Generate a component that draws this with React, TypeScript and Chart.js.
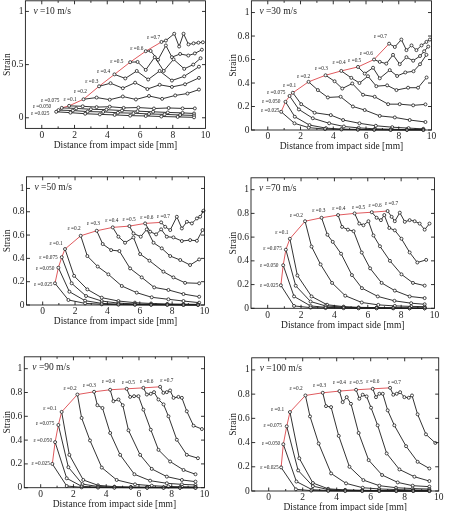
import React, { useEffect, useRef } from 'react';
import { Chart, registerables } from 'chart.js';

Chart.register(...registerables);

const FONT = "'Liberation Serif', 'Times New Roman', serif";

const STRAIN_LEVELS = ['0.025', '0.050', '0.075', '0.1', '0.2', '0.3', '0.4', '0.5', '0.6', '0.7'];
const X_TICKS = [0, 2, 4, 6, 8, 10];
const Y_TICKS_COARSE = [0, 0.5, 1];
const Y_TICKS_FINE = [0, 0.2, 0.4, 0.6, 0.8, 1];
const X_TITLE = 'Distance from impact side [mm]';
const Y_TITLE = 'Strain';

type Pt = [number, number];

// v = 10 m/s
const V10: Pt[][] = [
  [[0.88, 0.056], [1.75, 0.048], [2.65, 0.038], [3.55, 0.032], [4.45, 0.027], [5.4, 0.02], [6.35, 0.017], [7.3, 0.012], [8.3, 0.008], [9.3, 0.004]],
  [[1.02, 0.072], [1.9, 0.068], [2.8, 0.058], [3.75, 0.055], [4.65, 0.047], [5.6, 0.043], [6.55, 0.036], [7.5, 0.032], [8.45, 0.026], [9.3, 0.022]],
  [[1.22, 0.093], [2.1, 0.088], [3.0, 0.08], [3.95, 0.076], [4.9, 0.068], [5.85, 0.062], [6.8, 0.056], [7.7, 0.05], [8.6, 0.046], [9.3, 0.04]],
  [[1.67, 0.112], [2.5, 0.108], [3.35, 0.1], [4.15, 0.104], [5.0, 0.093], [5.9, 0.096], [6.85, 0.087], [7.75, 0.092], [8.6, 0.088], [9.35, 0.088]],
  [[2.55, 0.174], [3.35, 0.19], [4.15, 0.17], [4.95, 0.2], [5.75, 0.172], [6.55, 0.205], [7.35, 0.178], [8.15, 0.21], [8.9, 0.228], [9.6, 0.265]],
  [[3.5, 0.296], [4.2, 0.325], [4.95, 0.278], [5.7, 0.33], [6.45, 0.27], [7.2, 0.31], [7.95, 0.29], [8.75, 0.315], [9.6, 0.375]],
  [[4.44, 0.408], [5.1, 0.37], [5.8, 0.44], [6.5, 0.36], [7.2, 0.44], [7.95, 0.35], [8.7, 0.39], [9.6, 0.48]],
  [[5.4, 0.523], [5.85, 0.525], [6.35, 0.45], [6.9, 0.57], [7.45, 0.44], [8.05, 0.55], [8.7, 0.46], [9.25, 0.5], [9.7, 0.56]],
  [[6.35, 0.626], [6.65, 0.628], [7.1, 0.545], [7.58, 0.68], [7.95, 0.57], [8.45, 0.6], [8.95, 0.585], [9.35, 0.605], [9.78, 0.64]],
  [[7.31, 0.713], [7.58, 0.726], [8.09, 0.79], [8.39, 0.67], [8.66, 0.79], [8.96, 0.69], [9.27, 0.7], [9.57, 0.706], [9.84, 0.71]],
];

// v = 30 m/s
const V30: Pt[][] = [
  [[0.82, 0.155], [1.63, 0.057], [2.5, 0.02], [3.5, 0.008], [4.5, 0.004], [5.5, 0.002], [6.5, 0.001], [7.5, 0.0], [8.5, 0.0], [9.5, 0.0]],
  [[1.08, 0.24], [1.65, 0.113], [2.55, 0.042], [3.55, 0.016], [4.5, 0.008], [5.5, 0.005], [6.5, 0.003], [7.5, 0.002], [8.5, 0.001], [9.5, 0.001]],
  [[1.33, 0.29], [1.9, 0.175], [2.75, 0.1], [3.75, 0.057], [4.65, 0.03], [5.55, 0.018], [6.55, 0.01], [7.55, 0.006], [8.5, 0.004], [9.5, 0.003]],
  [[1.53, 0.317], [2.04, 0.22], [2.86, 0.147], [3.85, 0.127], [4.6, 0.085], [5.6, 0.057], [6.6, 0.036], [7.6, 0.024], [8.6, 0.016], [9.5, 0.01]],
  [[2.49, 0.41], [3.06, 0.34], [3.67, 0.277], [4.45, 0.283], [5.2, 0.2], [5.92, 0.17], [6.84, 0.12], [7.76, 0.107], [8.67, 0.085], [9.63, 0.068]],
  [[3.53, 0.466], [4.08, 0.415], [4.55, 0.353], [5.16, 0.396], [5.82, 0.3], [6.53, 0.283], [7.35, 0.22], [8.06, 0.22], [8.88, 0.21], [9.63, 0.218]],
  [[4.49, 0.503], [5.1, 0.444], [5.6, 0.4], [6.12, 0.458], [6.63, 0.373], [7.29, 0.38], [7.86, 0.34], [8.57, 0.36], [9.18, 0.36], [9.7, 0.447]],
  [[5.51, 0.537], [5.92, 0.48], [6.43, 0.53], [6.84, 0.44], [7.45, 0.51], [7.9, 0.46], [8.4, 0.49], [8.9, 0.5], [9.3, 0.56], [9.69, 0.64]],
  [[6.49, 0.6], [6.84, 0.58], [7.24, 0.565], [7.65, 0.64], [8.06, 0.56], [8.47, 0.62], [8.88, 0.59], [9.3, 0.63], [9.55, 0.67], [9.8, 0.71]],
  [[7.41, 0.735], [7.76, 0.707], [8.16, 0.77], [8.47, 0.68], [8.78, 0.72], [9.08, 0.68], [9.39, 0.72], [9.69, 0.75], [9.9, 0.77]],
];

// v = 50 m/s
const V50: Pt[][] = [
  [[0.76, 0.186], [1.59, 0.043], [2.62, 0.014], [3.65, 0.006], [4.68, 0.003], [5.7, 0.002], [6.7, 0.001], [7.7, 0.001], [8.7, 0.0], [9.6, 0.0]],
  [[0.97, 0.32], [1.65, 0.114], [2.62, 0.037], [3.65, 0.014], [4.68, 0.007], [5.7, 0.004], [6.7, 0.003], [7.7, 0.002], [8.7, 0.001], [9.6, 0.001]],
  [[1.18, 0.41], [1.79, 0.186], [2.68, 0.077], [3.65, 0.034], [4.68, 0.016], [5.7, 0.009], [6.7, 0.006], [7.7, 0.004], [8.7, 0.003], [9.6, 0.002]],
  [[1.38, 0.48], [1.94, 0.25], [2.76, 0.134], [3.65, 0.063], [4.68, 0.034], [5.7, 0.02], [6.7, 0.013], [7.7, 0.009], [8.7, 0.007], [9.6, 0.005]],
  [[2.35, 0.594], [2.76, 0.42], [3.4, 0.33], [4.06, 0.263], [4.89, 0.163], [5.81, 0.106], [6.74, 0.066], [7.77, 0.049], [8.7, 0.034], [9.67, 0.02]],
  [[3.34, 0.637], [3.71, 0.523], [4.23, 0.471], [4.74, 0.463], [5.4, 0.314], [6.12, 0.237], [6.89, 0.151], [7.77, 0.129], [8.7, 0.094], [9.67, 0.071]],
  [[4.33, 0.666], [4.68, 0.586], [5.09, 0.534], [5.61, 0.58], [6.02, 0.437], [6.6, 0.38], [7.46, 0.286], [8.08, 0.237], [8.8, 0.19], [9.67, 0.186]],
  [[5.36, 0.677], [5.61, 0.614], [6.06, 0.586], [6.43, 0.649], [6.85, 0.534], [7.36, 0.486], [7.88, 0.42], [8.5, 0.386], [9.11, 0.343], [9.67, 0.391]],
  [[6.33, 0.7], [6.64, 0.629], [7.01, 0.606], [7.32, 0.649], [7.67, 0.586], [8.08, 0.58], [8.6, 0.549], [9.11, 0.557], [9.53, 0.551], [9.88, 0.643]],
  [[7.32, 0.709], [7.57, 0.671], [7.88, 0.643], [8.29, 0.757], [8.6, 0.657], [8.91, 0.714], [9.22, 0.7], [9.53, 0.743], [9.73, 0.757], [9.94, 0.809]],
];

// v = 70 m/s
const V70: Pt[][] = [
  [[0.79, 0.194], [1.58, 0.02], [2.57, 0.006], [3.47, 0.002], [4.55, 0.001], [5.45, 0.0], [6.53, 0.0], [7.52, 0.0], [8.51, 0.0], [9.41, 0.0]],
  [[0.93, 0.363], [1.58, 0.1], [2.57, 0.02], [3.47, 0.008], [4.55, 0.004], [5.45, 0.002], [6.53, 0.001], [7.52, 0.001], [8.51, 0.0], [9.41, 0.0]],
  [[1.09, 0.494], [1.68, 0.19], [2.57, 0.057], [3.47, 0.02], [4.55, 0.01], [5.45, 0.005], [6.53, 0.003], [7.52, 0.002], [8.51, 0.001], [9.41, 0.001]],
  [[1.33, 0.586], [1.78, 0.277], [2.63, 0.1], [3.56, 0.03], [4.55, 0.014], [5.45, 0.008], [6.53, 0.006], [7.52, 0.004], [8.51, 0.003], [9.41, 0.002]],
  [[2.24, 0.734], [2.63, 0.52], [3.17, 0.37], [3.86, 0.214], [4.65, 0.106], [5.64, 0.049], [6.63, 0.029], [7.62, 0.02], [8.6, 0.016], [9.41, 0.014]],
  [[3.23, 0.763], [3.58, 0.62], [3.9, 0.56], [4.4, 0.46], [5.05, 0.28], [5.65, 0.17], [6.6, 0.1], [7.6, 0.063], [8.6, 0.043], [9.41, 0.034]],
  [[4.22, 0.786], [4.46, 0.686], [4.81, 0.663], [5.15, 0.65], [5.64, 0.47], [6.14, 0.337], [6.83, 0.214], [7.62, 0.149], [8.51, 0.1], [9.41, 0.086]],
  [[5.21, 0.8], [5.49, 0.714], [5.74, 0.7], [6.04, 0.734], [6.34, 0.614], [6.73, 0.523], [7.33, 0.4], [8.02, 0.286], [8.71, 0.214], [9.41, 0.191]],
  [[6.24, 0.81], [6.53, 0.763], [6.79, 0.743], [6.99, 0.786], [7.29, 0.677], [7.62, 0.657], [8.02, 0.586], [8.51, 0.471], [8.97, 0.386], [9.5, 0.408]],
  [[7.19, 0.82], [7.43, 0.771], [7.62, 0.734], [7.92, 0.806], [8.22, 0.729], [8.51, 0.743], [8.81, 0.734], [9.11, 0.714], [9.41, 0.663], [9.7, 0.714]],
];

// v = 90 m/s
const V90: Pt[][] = [
  [[0.71, 0.2], [1.59, 0.014], [2.5, 0.003], [3.5, 0.001], [4.5, 0.0], [5.5, 0.0], [6.5, 0.0], [7.5, 0.0], [8.5, 0.0], [9.45, 0.0]],
  [[0.88, 0.383], [1.59, 0.079], [2.5, 0.012], [3.5, 0.004], [4.5, 0.002], [5.5, 0.001], [6.5, 0.0], [7.5, 0.0], [8.5, 0.0], [9.45, 0.0]],
  [[1.08, 0.527], [1.69, 0.172], [2.55, 0.03], [3.5, 0.01], [4.5, 0.005], [5.5, 0.003], [6.5, 0.002], [7.5, 0.001], [8.5, 0.001], [9.45, 0.0]],
  [[1.28, 0.637], [1.75, 0.276], [2.6, 0.065], [3.5, 0.02], [4.5, 0.009], [5.5, 0.006], [6.5, 0.004], [7.5, 0.003], [8.5, 0.002], [9.45, 0.002]],
  [[2.24, 0.783], [2.5, 0.586], [3.01, 0.397], [3.73, 0.169], [4.64, 0.065], [5.76, 0.028], [6.78, 0.017], [7.8, 0.01], [8.62, 0.008], [9.45, 0.006]],
  [[3.26, 0.806], [3.46, 0.693], [3.77, 0.67], [4.24, 0.46], [4.85, 0.276], [5.72, 0.113], [6.68, 0.059], [7.7, 0.037], [8.62, 0.028], [9.45, 0.023]],
  [[4.24, 0.823], [4.44, 0.727], [4.75, 0.741], [5.01, 0.693], [5.36, 0.482], [6.07, 0.276], [6.78, 0.158], [7.7, 0.093], [8.62, 0.065], [9.45, 0.051]],
  [[5.25, 0.831], [5.46, 0.763], [5.7, 0.769], [5.97, 0.769], [6.27, 0.656], [6.72, 0.487], [7.19, 0.318], [7.9, 0.22], [8.72, 0.149], [9.45, 0.113]],
  [[6.27, 0.839], [6.48, 0.783], [6.72, 0.789], [6.92, 0.803], [7.19, 0.741], [7.5, 0.7], [7.8, 0.6], [8.31, 0.403], [8.92, 0.276], [9.6, 0.248]],
  [[7.29, 0.848], [7.49, 0.797], [7.7, 0.803], [7.9, 0.817], [8.11, 0.755], [8.41, 0.763], [8.62, 0.755], [8.92, 0.642], [9.33, 0.521], [9.84, 0.493]],
];

// v = 100 m/s
const V100: Pt[][] = [
  [[0.73, 0.195], [1.6, 0.014], [2.5, 0.003], [3.5, 0.001], [4.5, 0.0], [5.5, 0.0], [6.5, 0.0], [7.5, 0.0], [8.5, 0.0], [9.45, 0.0]],
  [[0.86, 0.386], [1.63, 0.078], [2.55, 0.011], [3.5, 0.004], [4.5, 0.002], [5.5, 0.001], [6.5, 0.0], [7.5, 0.0], [8.5, 0.0], [9.45, 0.0]],
  [[1.06, 0.534], [1.73, 0.17], [2.6, 0.04], [3.5, 0.012], [4.5, 0.006], [5.5, 0.003], [6.5, 0.002], [7.5, 0.001], [8.5, 0.001], [9.45, 0.0]],
  [[1.25, 0.652], [1.8, 0.27], [2.6, 0.066], [3.5, 0.018], [4.5, 0.009], [5.5, 0.006], [6.5, 0.004], [7.5, 0.003], [8.5, 0.002], [9.45, 0.002]],
  [[2.16, 0.789], [2.43, 0.616], [2.94, 0.392], [3.67, 0.145], [4.55, 0.063], [5.53, 0.027], [6.5, 0.017], [7.5, 0.012], [8.5, 0.008], [9.45, 0.006]],
  [[3.18, 0.811], [3.37, 0.701], [3.67, 0.693], [4.12, 0.455], [4.75, 0.2], [5.57, 0.09], [6.51, 0.044], [7.49, 0.027], [8.47, 0.02], [9.45, 0.016]],
  [[4.16, 0.825], [4.35, 0.734], [4.59, 0.775], [4.84, 0.72], [5.29, 0.479], [5.88, 0.255], [6.67, 0.132], [7.59, 0.071], [8.47, 0.044], [9.45, 0.036]],
  [[5.14, 0.836], [5.33, 0.762], [5.53, 0.795], [5.76, 0.781], [6.02, 0.688], [6.41, 0.542], [6.94, 0.31], [7.69, 0.178], [8.57, 0.118], [9.45, 0.082]],
  [[6.12, 0.844], [6.31, 0.775], [6.51, 0.803], [6.71, 0.803], [7.0, 0.666], [7.39, 0.542], [8.08, 0.37], [8.76, 0.241], [9.45, 0.186]],
  [[7.14, 0.852], [7.33, 0.795], [7.53, 0.803], [7.73, 0.816], [7.98, 0.775], [8.24, 0.77], [8.43, 0.789], [8.76, 0.633], [9.25, 0.468], [9.8, 0.397]],
];

type PanelDef = {
  speed: number;
  series: Pt[][];
  yMin: number;
  yTicks: number[];
  px: number;
  box: [number, number, number, number];
  labelOffsets: [number, number][]; // label centre offset (px) from its peak point
};

const PANELS: PanelDef[] = [
  {
    speed: 10, series: V10, yMin: -0.1, yTicks: Y_TICKS_COARSE, px: 0, box: [25.4, 0, 205.5, 128.4],
    labelOffsets: [[-16, 1.6], [-16.5, -4], [-11.5, -7.7], [1, -6.7], [-3.3, -8], [-7.3, -4.3], [-11, -2.3], [-13.3, -0.7], [-9, -2.4], [-8, -4.6]],
  },
  {
    speed: 30, series: V30, yMin: 0, yTicks: Y_TICKS_FINE, px: 226, box: [251.4, 0.5, 431.5, 130],
    labelOffsets: [[-11, -0.7], [-14.3, 0], [-13.3, -3.3], [-3.3, -6.7], [-5, -5.7], [-4.3, -6.3], [-2.3, -8], [-3.3, -6.7], [-7.7, -6], [-8.7, -7.3]],
  },
  {
    speed: 50, series: V50, yMin: 0, yTicks: Y_TICKS_FINE, px: 0, box: [26.5, 176.6, 204.5, 305],
    labelOffsets: [[-11.7, 1.7], [-13.3, 0.7], [-13.3, 0], [-9, -5], [-6.7, -6.7], [-3.3, -7.3], [-1, -6.7], [-0.3, -6.7], [1.7, -5.7], [2.3, -5.7]],
  },
  {
    speed: 70, series: V70, yMin: 0, yTicks: Y_TICKS_FINE, px: 226, box: [251, 177, 434.5, 308.3],
    labelOffsets: [[-11.7, 0], [-14, 0.7], [-13.3, -0.7], [-8, -6], [-8.7, -5.3], [-2.7, -6.7], [0.7, -6], [4, -5.3], [3.3, -6.7], [4, -7.7]],
  },
  {
    speed: 90, series: V90, yMin: 0, yTicks: Y_TICKS_FINE, px: 0, box: [24.3, 356.4, 204.5, 487.7],
    labelOffsets: [[-11.7, 0], [-12.3, -1.7], [-13.3, -1.3], [-11.7, -3], [-7.3, -6], [-4.7, -6.3], [-1.7, -7.7], [1.7, -6.7], [3.3, -6.7], [6.7, -6.3]],
  },
  {
    speed: 100, series: V100, yMin: 0, yTicks: Y_TICKS_FINE, px: 226, box: [251.7, 357, 438.7, 491],
    labelOffsets: [[-11.7, 0], [-12.3, -0.7], [-14, -1], [-12.3, -2.3], [-9.3, -6.7], [-3.3, -6.7], [0, -8], [0, -7.3], [0, -6.7], [4.3, -5.7]],
  },
];

const INK = '#1c1c1c';
const RED = '#e05a5e';

function Panel({ p }: { p: PanelDef }) {
  const ref = useRef<HTMLCanvasElement | null>(null);
  const [L, T, R, B] = p.box;
  const W = 226;
  const top = Math.floor(T) - 4;
  const H = Math.round(B + 22.2 - top);
  const yw = L - p.px;
  const padR = W - (R - p.px);
  const padT = T - top;
  const xh = top + H - B;

  useEffect(() => {
    if (!ref.current) return;
    const datasets: any[] = p.series.map((s, i) => ({
      label: 'ε =' + STRAIN_LEVELS[i],
      data: s.map(([x, y]) => ({ x, y })),
      borderColor: INK,
      borderWidth: 0.9,
      pointRadius: 1.5,
      pointBackgroundColor: '#ffffff',
      pointBorderColor: INK,
      pointBorderWidth: 0.8,
      tension: 0,
      fill: false,
      clip: 4,
    }));
    datasets.push({
      label: 'peak',
      data: p.series.map((s) => ({ x: s[0][0], y: s[0][1] })),
      borderColor: RED,
      borderWidth: 1,
      pointRadius: 0,
      tension: 0,
      fill: false,
      clip: 4,
    });

    const decor = {
      id: 'decor',
      afterDraw(chart: any) {
        const { ctx, chartArea: a } = chart;
        const xs = chart.scales.x;
        const ys = chart.scales.y;
        ctx.save();
        ctx.strokeStyle = INK;
        ctx.lineWidth = 0.9;
        ctx.strokeRect(a.left, a.top, a.right - a.left, a.bottom - a.top);
        ctx.beginPath();
        for (let v = 0; v < 10; v++) {
          const x = xs.getPixelForValue(v);
          const len = v % 2 === 0 ? 3.5 : 2;
          ctx.moveTo(x, a.bottom);
          ctx.lineTo(x, a.bottom - len);
          ctx.moveTo(x, a.top);
          ctx.lineTo(x, a.top + len);
        }
        for (const v of p.yTicks) {
          const y = ys.getPixelForValue(v);
          ctx.moveTo(a.left, y);
          ctx.lineTo(a.left + 3.5, y);
          ctx.moveTo(a.right, y);
          ctx.lineTo(a.right - 3.5, y);
        }
        ctx.stroke();

        ctx.fillStyle = INK;
        ctx.font = `5.3px ${FONT}`;
        ctx.textAlign = 'center';
        ctx.textBaseline = 'middle';
        p.series.forEach((s, i) => {
          const x = xs.getPixelForValue(s[0][0]);
          const y = ys.getPixelForValue(s[0][1]);
          const [dx, dy] = p.labelOffsets[i];
          ctx.fillText('ε =' + STRAIN_LEVELS[i], x + dx, y + dy);
        });

        ctx.textAlign = 'left';
        ctx.textBaseline = 'middle';
        ctx.font = `italic 9.5px ${FONT}`;
        const lx = a.left + 8;
        const ly = a.top + 11;
        ctx.fillText('v', lx, ly);
        const vw = ctx.measureText('v').width;
        ctx.font = `9.5px ${FONT}`;
        ctx.fillText(` =${p.speed} m/s`, lx + vw, ly);
        ctx.restore();
      },
    };

    const chart = new Chart(ref.current, {
      type: 'line',
      data: { datasets },
      options: {
        animation: false,
        responsive: false,
        maintainAspectRatio: false,
        events: [],
        layout: { padding: { left: 0, top: padT, right: padR, bottom: 0 } },
        plugins: { legend: { display: false }, tooltip: { enabled: false } },
        scales: {
          x: {
            type: 'linear',
            min: -1,
            max: 10,
            grid: { display: false, drawTicks: false },
            border: { display: false },
            ticks: {
              color: INK,
              font: { family: FONT, size: 9.5 },
              padding: 1,
              maxRotation: 0,
              autoSkip: false,
              callback: (v: any) => String(v),
            },
            afterBuildTicks: (s: any) => {
              s.ticks = X_TICKS.map((v) => ({ value: v }));
            },
            afterFit: (s: any) => {
              s.height = xh;
              s.paddingLeft = 0;
              s.paddingRight = 0;
            },
            title: {
              display: true,
              text: X_TITLE,
              color: INK,
              font: { family: FONT, size: 9.5, lineHeight: 1.2 },
              padding: { top: 0, bottom: 0 },
            },
          },
          y: {
            type: 'linear',
            min: p.yMin,
            max: 1.1,
            grid: { display: false, drawTicks: false },
            border: { display: false },
            ticks: {
              color: INK,
              font: { family: FONT, size: 9.5 },
              padding: 2,
              autoSkip: false,
              callback: (v: any) => String(Math.round(Number(v) * 10) / 10),
            },
            afterBuildTicks: (s: any) => {
              s.ticks = p.yTicks.map((v) => ({ value: v }));
            },
            afterFit: (s: any) => {
              s.width = yw;
              s.paddingTop = 0;
              s.paddingBottom = 0;
            },
            title: {
              display: true,
              text: Y_TITLE,
              color: INK,
              font: { family: FONT, size: 9.5, lineHeight: 1.2 },
              padding: { top: 1.5, bottom: 0 },
            },
          },
        },
      },
      plugins: [decor],
    } as any);
    return () => chart.destroy();
  }, []);

  return (
    <canvas
      ref={ref}
      width={W}
      height={H}
      style={{ position: 'absolute', left: p.px, top, width: W, height: H }}
    />
  );
}

export default function App() {
  return (
    <div
      style={{
        position: 'fixed',
        left: 0,
        top: 0,
        width: 452,
        height: 511,
        overflow: 'hidden',
        background: '#ffffff',
      }}
    >
      {PANELS.map((p) => (
        <Panel key={p.speed} p={p} />
      ))}
    </div>
  );
}
